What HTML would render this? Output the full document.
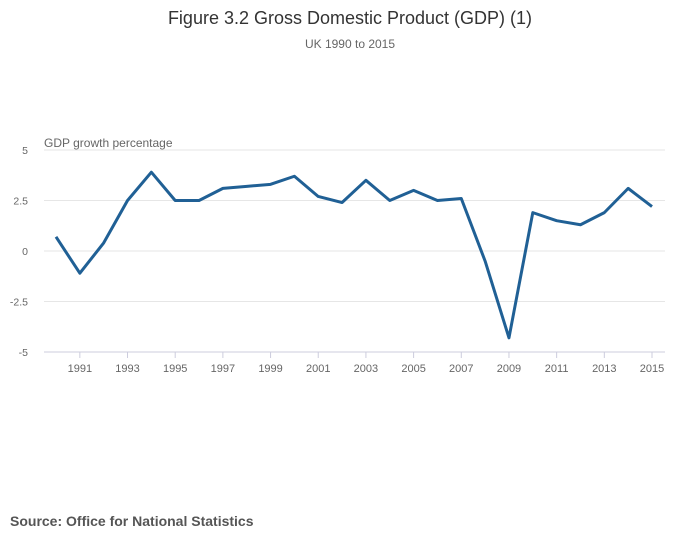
<!DOCTYPE html>
<html><head><meta charset="utf-8"><style>
body{margin:0;background:#fff;font-family:"Liberation Sans",sans-serif;}
</style></head><body>
<svg width="700" height="549" xmlns="http://www.w3.org/2000/svg">
<text x="350" y="24" text-anchor="middle" font-size="18" fill="#333">Figure 3.2 Gross Domestic Product (GDP) (1)</text>
<text x="350" y="48" text-anchor="middle" font-size="12" fill="#666">UK 1990 to 2015</text>
<text x="44" y="147" font-size="12" fill="#666">GDP growth percentage</text>
<g id="grid"></g><g id="xaxis"></g>
<path id="line" fill="none" stroke="#206095" stroke-width="3" stroke-linejoin="round"/>
<text x="10" y="526" font-size="14" font-weight="bold" fill="#555">Source: Office for National Statistics</text>
</svg>
<script>
const years=[1990,1991,1992,1993,1994,1995,1996,1997,1998,1999,2000,2001,2002,2003,2004,2005,2006,2007,2008,2009,2010,2011,2012,2013,2014,2015];
const growth=[0.7,-1.1,0.4,2.5,3.9,2.5,2.5,3.1,3.2,3.3,3.7,2.7,2.4,3.5,2.5,3.0,2.5,2.6,-0.5,-4.3,1.9,1.5,1.3,1.9,3.1,2.2];
const yTicks=[5,2.5,0,-2.5,-5];
const yTickLabels=["5","2.5","0","-2.5","-5"];
const xTickYears=[1991,1993,1995,1997,1999,2001,2003,2005,2007,2009,2011,2013,2015];
const NS="http://www.w3.org/2000/svg";
const x=yr=>56+(yr-1990)*(652-56)/25;
const y=v=>251-v*20.2;
const grid=document.getElementById('grid'),xa=document.getElementById('xaxis');
yTicks.forEach((t,i)=>{
 const l=document.createElementNS(NS,'line');
 l.setAttribute('x1',44);l.setAttribute('x2',665);l.setAttribute('y1',y(t));l.setAttribute('y2',y(t));
 l.setAttribute('stroke',t===-5?'#ccd':'#e6e6e6');l.setAttribute('stroke-width',1);
 
 
 grid.appendChild(l);
 const tx=document.createElementNS(NS,'text');
 tx.setAttribute('x',28);tx.setAttribute('y',y(t)+4);tx.setAttribute('font-size',10.5);tx.setAttribute('fill','#666');tx.setAttribute('text-anchor','end');
 tx.textContent=yTickLabels[i];
 
 
 grid.appendChild(tx);
});
xTickYears.forEach(yr=>{
 const l=document.createElementNS(NS,'line');
 l.setAttribute('x1',x(yr));l.setAttribute('x2',x(yr));l.setAttribute('y1',352);l.setAttribute('y2',358);
 l.setAttribute('stroke','#ccd');
 
 
 xa.appendChild(l);
 const tx=document.createElementNS(NS,'text');
 tx.setAttribute('x',x(yr));tx.setAttribute('y',372);tx.setAttribute('font-size',11);tx.setAttribute('fill','#666');tx.setAttribute('text-anchor','middle');
 tx.textContent=yr;
 
 
 xa.appendChild(tx);
});
document.getElementById('line').setAttribute('d',years.map((yr,i)=>(i?'L':'M')+x(yr)+','+y(growth[i])).join(' '));
</script>
</body></html>
